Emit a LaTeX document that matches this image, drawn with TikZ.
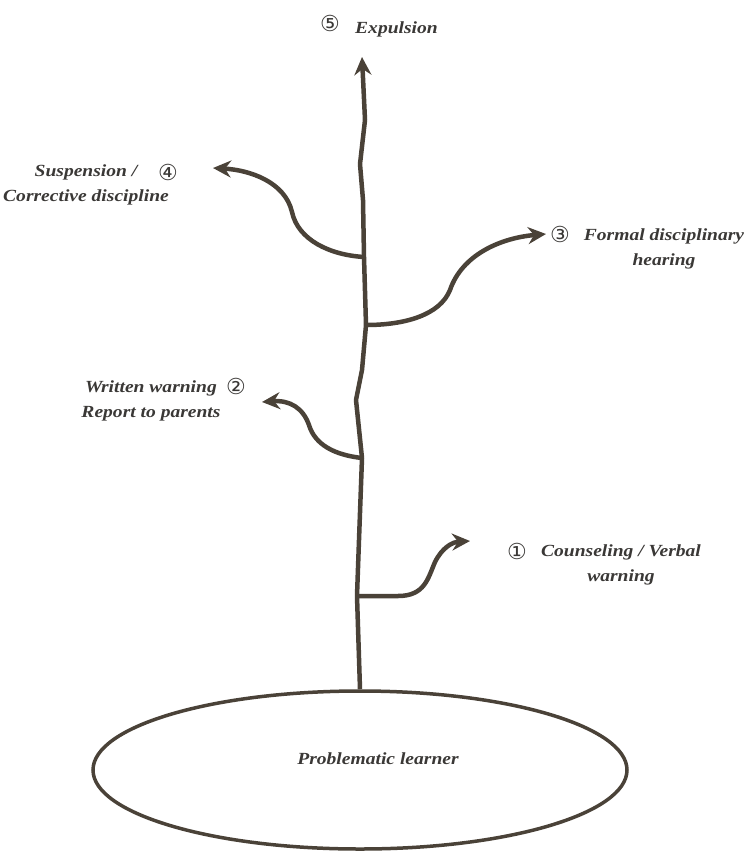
\documentclass[tikz,border=0pt]{standalone}
\usepackage{fontspec}
\setmainfont{Liberation Serif}
\newfontfamily\lblfont[FakeStretch=1.15]{Liberation Serif}
\newfontfamily\numfont{DejaVu Sans}
\usetikzlibrary{arrows.meta, positioning, shapes.geometric}
\definecolor{stemgrey}{HTML}{4A4238}
\definecolor{textgrey}{HTML}{3A3836}

\begin{document}
\begin{tikzpicture}[x=1pt, y=-1pt,
    stem/.style={stemgrey, line width=4.5pt, line join=round},
    twig/.style={stem, -{Stealth[length=18pt, width=17pt, inset=6pt]}},
    lbl/.style={text=textgrey, font=\lblfont\fontsize{17}{25}\selectfont\bfseries\itshape,
                align=center, inner sep=0pt},
    num/.style={text=textgrey, font=\fontsize{22}{24}\selectfont\numfont, inner sep=0pt}]
  \useasboundingbox (0,0) rectangle (748,865);
  % root
  \node[draw=stemgrey, line width=3.5pt, ellipse, minimum width=534pt,
        minimum height=158pt, inner sep=0pt] (learner) at (360,770) {};
  \node[lbl] (learnertext) at (378,759) {Problematic learner};
  % junctions on the stem and free ends of the twigs
  \coordinate (j1) at (357,596);
  \coordinate (j2) at (362,458);
  \coordinate (j3) at (366,325);
  \coordinate (j4) at (364,257);
  \coordinate (tip1) at (470,541);
  \coordinate (tip2) at (262,402);
  \coordinate (tip3) at (546,234);
  \coordinate (tip4) at (213,168);
  \coordinate (tip5) at (362,57);
  % labels
  \node[num] (n1) at (517,551) {①};
  \node[lbl] (lab1) at (621,565) {Counseling / Verbal\\warning};
  \node[num] (n2) at (236,386) {②};
  \node[lbl] (lab2) at (151,401) {Written warning\\Report to parents};
  \node[num] (n3) at (560,234) {③};
  \node[lbl] (lab3) at (664,249) {Formal disciplinary\\hearing};
  \node[num] (n4) at (168,172) {④};
  \node[lbl] (lab4) at (86,185) {Suspension /\\Corrective discipline};
  \node[num] (n5) at (330,23) {⑤};
  \node[lbl, anchor=west] (lab5) at (355,29) {Expulsion};
  % stem
  \draw[twig] (learner.north) -- (j1) -- (359,540) -- (j2) -- (356,400)
    -- (362,370) -- (j3) -- (j4) -- (363,200) -- (360,164) -- (365,120) -- (tip5);
  % twigs
  \draw[twig] (j1) -- (398,596) .. controls (425,596) and (428,578) .. (435,562)
    .. controls (442,548) and (452,542) .. (tip1);
  \draw[twig] (j2) .. controls (335,455) and (315,445) .. (309,425)
    .. controls (303,408) and (290,400) .. (tip2);
  \draw[twig] (j3) .. controls (405,325) and (440,315) .. (450,290)
    .. controls (462,255) and (500,238) .. (tip3);
  \draw[twig] (j4) .. controls (330,255) and (298,240) .. (292,212)
    .. controls (285,182) and (250,170) .. (tip4);
\end{tikzpicture}
\end{document}
